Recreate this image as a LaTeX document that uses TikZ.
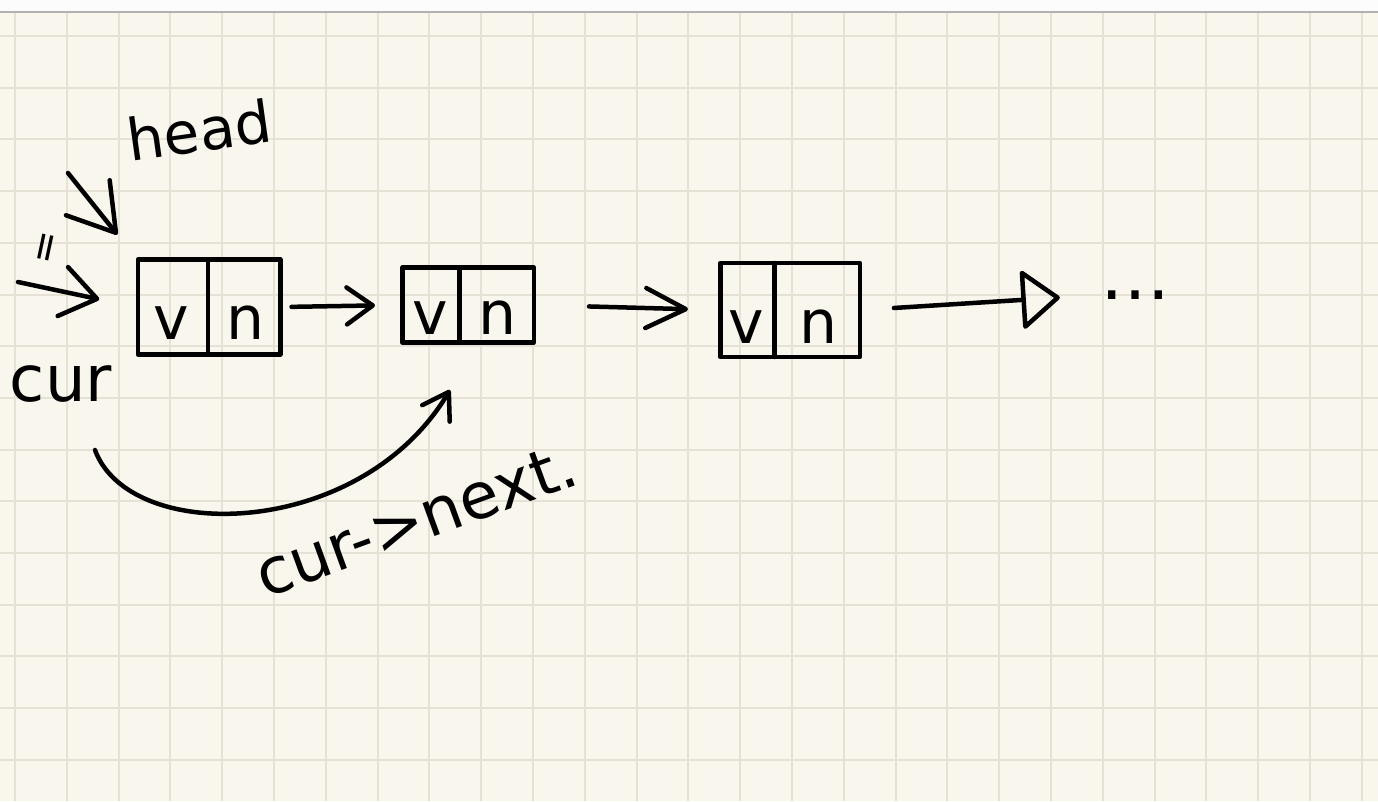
\documentclass[tikz,border=0pt]{standalone}
\usepackage{fontspec}
\setmainfont{DejaVu Sans}
\usetikzlibrary{arrows.meta,shapes.multipart}
\definecolor{paper}{RGB}{249,247,237}
\definecolor{gridline}{RGB}{229,226,213}
\definecolor{topbar}{RGB}{252,252,252}
\newcommand{\slot}[4]{\makebox[#1]{\rule[-#3]{0pt}{#2}#4}}
\tikzset{
  ink/.style={line width=4.5pt, line cap=round, line join=round},
  cell/.style={ink, draw, rectangle split, rectangle split horizontal, rectangle split parts=2, inner sep=0pt, font=\fontsize{60}{64}\selectfont},
  hand/.style={font=\fontsize{#1}{#1}\selectfont}
}

\begin{document}
\begin{tikzpicture}[x=1pt,y=1pt,yscale=-1,xscale=1]
\useasboundingbox (0,0) rectangle (1378,801);
\fill[paper] (0,0) rectangle (1378,801);
\fill[topbar] (0,0) rectangle (1378,12);
\foreach \x in {15,66.8,...,1378} \draw[gridline, line width=2] (\x,12) -- (\x,801);
\foreach \y in {36,87.7,...,801} \draw[gridline, line width=2] (0,\y) -- (1378,\y);
\draw[gray!60, line width=1.5] (0,12) -- (1378,12);

% list nodes
\node[cell] (b1) at (209,307) {\slot{68pt}{95pt}{15pt}{v}\nodepart{two}\slot{70pt}{95pt}{15pt}{n}};
\node[cell] (b2) at (468,305) {\slot{55pt}{75pt}{8pt}{v}\nodepart{two}\slot{72pt}{75pt}{8pt}{n}};
\node[cell] (b3) at (790,310) {\slot{52pt}{94pt}{14pt}{v}\nodepart{two}\slot{83pt}{94pt}{14pt}{n}};
\node[hand=70, inner sep=0pt] (dots) at (1135,295) {\ldots};

% labels
\node[hand=58, rotate=8] (head) at (199,130) {head};
\node[hand=64] (cur) at (61,384) {cur};
\node[hand=40, rotate=78] (eq) at (49,248) {=};
\node[hand=64, rotate=20] (curnext) at (416,520) {cur->next.};

\coordinate (curtail) at (18,282);
\coordinate (headtail) at (68,173);
\coordinate (loopstart) at (95,450);
\coordinate (looptip) at (450,390);

% pointers
\draw[ink, shorten >=37pt, -{Straight Barb[length=35pt,width=50pt,round]}] (curtail) -- (b1.west);
\draw[ink, shorten >=29pt, -{Straight Barb[length=45pt,width=56pt,round]}] (headtail) -- (b1.north west);
\draw[ink, shorten <=9pt, shorten >=25pt, -{Straight Barb[length=26pt,width=37pt,round]}] (b1.east) -- (b2.west);
\draw[ink, shorten <=53pt, shorten >=30pt, -{Straight Barb[length=40pt,width=40pt,round]}] (b2.east) -- (b3.west);
\draw[ink, shorten <=32pt, shorten >=40pt, -{Triangle[open,length=40pt,width=62pt,round]}] (b3.east) -- (dots.west);
\draw[ink, -{Straight Barb[length=25pt,width=32pt,round]}] (loopstart) .. controls (130,545) and (360,540) .. (looptip);
\end{tikzpicture}
\end{document}
